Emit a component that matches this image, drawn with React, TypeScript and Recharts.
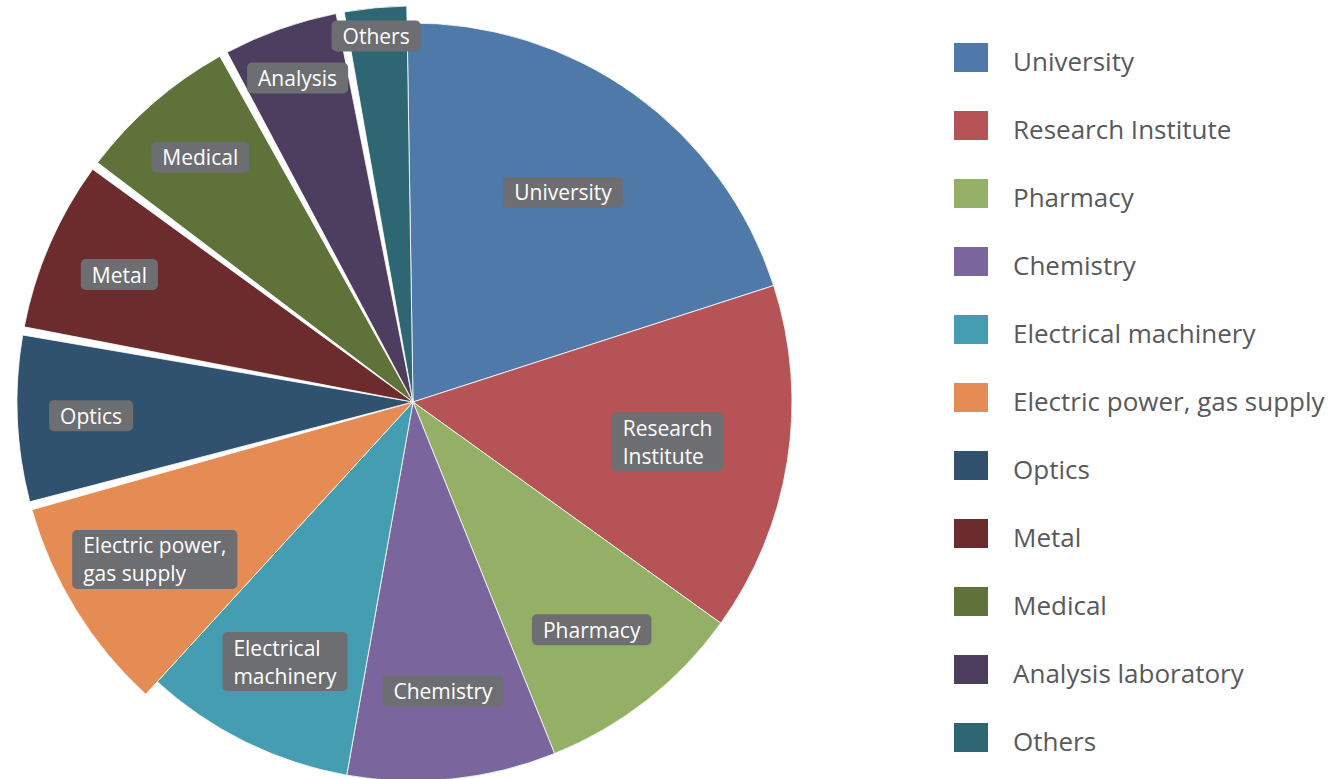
import { PieChart, Pie, Cell, Legend, Sector } from "recharts";

// slice shares in %, clockwise from the top
const CATEGORIES = [
  "University",
  "Research Institute",
  "Pharmacy",
  "Chemistry",
  "Electrical machinery",
  "Electric power, gas supply",
  "Optics",
  "Metal",
  "Medical",
  "Analysis laboratory",
  "Others",
];
const SHARES = [20.3, 14.9, 9.0, 8.9, 9.0, 9.0, 7.1, 7.3, 6.9, 5.0, 2.7];
const SLICE_LABELS = [
  "University",
  "Research\nInstitute",
  "Pharmacy",
  "Chemistry",
  "Electrical\nmachinery",
  "Electric power,\ngas supply",
  "Optics",
  "Metal",
  "Medical",
  "Analysis",
  "Others",
];

const COLORS = [
  "#4e79a8",
  "#b65356",
  "#93b066",
  "#7a669d",
  "#459db2",
  "#e58b54",
  "#30526f",
  "#6c2c2d",
  "#5e7239",
  "#4d3e5f",
  "#2e6674",
];

// the smaller slices are drawn a bit larger, with white gaps between them
const RAISED = new Set([
  "Electric power, gas supply",
  "Optics",
  "Metal",
  "Medical",
  "Analysis laboratory",
  "Others",
]);

const CX = 413;
const CY = 402;
const R_BASE = 379;
const R_RAISED = 396;
const GAP = 1.2;
const LABEL_FONT = 21;
const LEGEND_FONT = 26;
const FONT = '"Open Sans", "Noto Sans", sans-serif';
const TEXT_GREY = "#58595b";
const BOX_GREY = "#6d6e71";

const data = CATEGORIES.map((name, i) => ({ name, value: SHARES[i] }));

let ctx: CanvasRenderingContext2D | null = null;
function textWidth(s: string, size: number) {
  if (!ctx) ctx = document.createElement("canvas").getContext("2d");
  if (!ctx) return s.length * size * 0.5;
  ctx.font = `${size}px ${FONT}`;
  return ctx.measureText(s).width;
}

function SliceShape(props: any) {
  const name = props.payload?.name ?? props.name;
  const i = CATEGORIES.indexOf(name);
  const n = CATEGORIES.length;
  const raised = RAISED.has(name);
  const dir = Math.sign(props.endAngle - props.startAngle) || -1;
  let s = props.startAngle;
  let e = props.endAngle;
  if (raised && RAISED.has(CATEGORIES[(i - 1 + n) % n])) s += (dir * GAP) / 2;
  if (raised && RAISED.has(CATEGORIES[(i + 1) % n])) e -= (dir * GAP) / 2;
  return (
    <Sector
      {...props}
      startAngle={s}
      endAngle={e}
      outerRadius={raised ? R_RAISED : R_BASE}
    />
  );
}

function renderLabel(p: any) {
  const i = p.index;
  const name = CATEGORIES[i];
  const R = RAISED.has(name) ? R_RAISED : R_BASE;
  const deg = p.percent * 360;
  const r = R * Math.max(0.68, 1 - 0.0073 * deg);
  const rad = (-p.midAngle * Math.PI) / 180;
  const cx = p.cx ?? CX;
  const cy = p.cy ?? CY;
  const x = cx + r * Math.cos(rad);
  const y = cy + r * Math.sin(rad);
  const lines = SLICE_LABELS[i].split("\n");
  const padX = 11;
  const w = Math.max(...lines.map((l) => textWidth(l, LABEL_FONT))) + padX * 2;
  const h = 31 + (lines.length - 1) * 28;
  const left = x - w / 2;
  const top = y - h / 2;
  return (
    <g key={`lbl-${i}`}>
      <rect x={left} y={top} width={w} height={h} rx={5} fill={BOX_GREY} />
      {lines.map((l, k) => (
        <text
          key={k}
          x={left + padX}
          y={top + 15.5 + k * 28}
          fill="#fff"
          fontSize={LABEL_FONT}
          fontFamily={FONT}
          dominantBaseline="central"
        >
          {l}
        </text>
      ))}
    </g>
  );
}

function LegendList({ payload }: any) {
  const items = [...(payload || [])].sort(
    (a: any, b: any) => CATEGORIES.indexOf(a.value) - CATEGORIES.indexOf(b.value)
  );
  return (
    <div style={{ fontFamily: FONT }}>
      {items.map((item: any, i: number) => (
        <div
          key={item.value}
          style={{
            position: "absolute",
            left: 0,
            top: 43 + i * 68,
            height: 29,
            display: "flex",
            alignItems: "center",
            whiteSpace: "nowrap",
          }}
        >
          <span
            style={{
              display: "inline-block",
              width: 34,
              height: 29,
              background: item.color,
              marginRight: 25,
            }}
          />
          <span
            style={{
              fontSize: LEGEND_FONT,
              color: TEXT_GREY,
              position: "relative",
              top: 3,
            }}
          >
            {item.value}
          </span>
        </div>
      ))}
    </div>
  );
}

export default function App() {
  return (
    <div style={{ position: "absolute", left: 0, top: 0, width: 1334, height: 779, background: "#fff" }}>
      <PieChart width={1334} height={779} margin={{ top: 0, right: 0, bottom: 0, left: 0 }}>
        <Pie
          data={data}
          dataKey="value"
          nameKey="name"
          cx={CX}
          cy={CY}
          outerRadius={R_BASE}
          startAngle={90.9}
          endAngle={-269.1}
          stroke="#fff"
          strokeWidth={0.8}
          shape={SliceShape}
          label={renderLabel}
          labelLine={false}
          isAnimationActive={false}
        >
          {data.map((d, i) => (
            <Cell key={d.name} fill={COLORS[i]} />
          ))}
        </Pie>
        <Legend
          layout="vertical"
          verticalAlign="top"
          align="right"
          content={<LegendList />}
          wrapperStyle={{ left: 954, top: 0, width: 380, height: 779 }}
        />
      </PieChart>
    </div>
  );
}
